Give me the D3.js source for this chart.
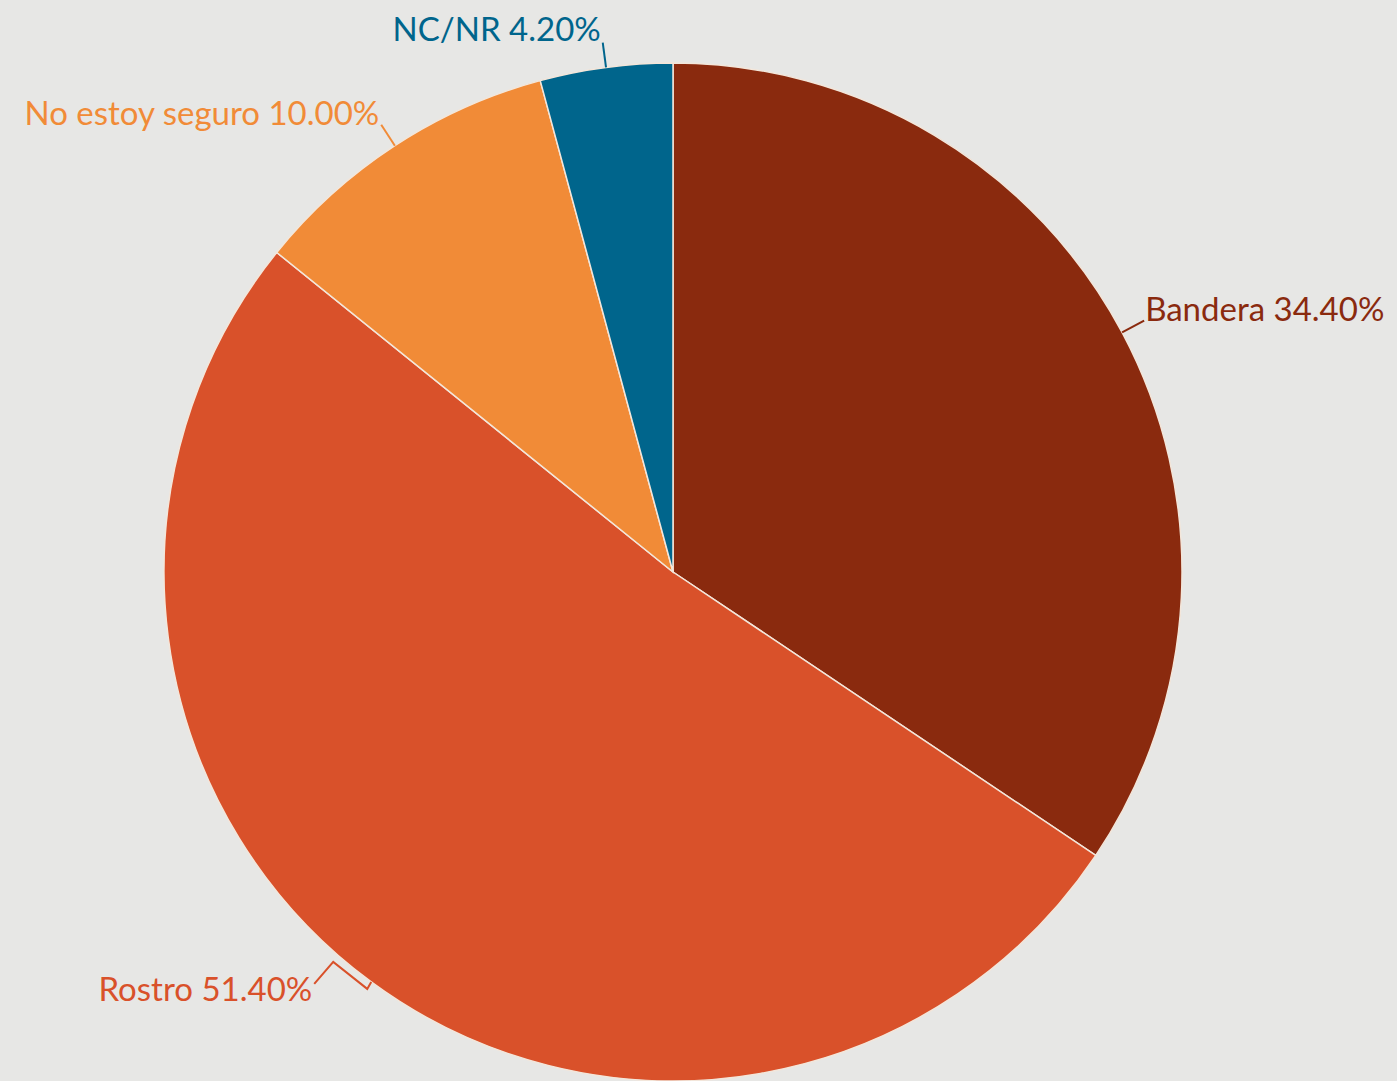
<!DOCTYPE html>
<html>
<head>
<meta charset="utf-8">
<script src="https://cdn.jsdelivr.net/npm/d3@7"></script>
<style>
  html, body { margin: 0; padding: 0; background: #e7e7e5; }
  svg { display: block; }
</style>
</head>
<body>
<div id="pie-chart"></div>
<script>
// answers, clockwise from 12 o'clock
const categories = ['Bandera', 'Rostro', 'No estoy seguro', 'NC/NR'];
const values = [34.4, 51.4, 10.0, 4.2];
const colors = ['#8a2a0e', '#d9512a', '#f18b37', '#00658c'];

generatePie('#pie-chart');

function generatePie(pieId) {
    const pageWidth = 1397;
    const pageHeight = 1081;
    const cx = 673;
    const cy = 572;
    const radius = 509;
    const lineLength = 25;

    const svg = d3.select(pieId)
        .append("svg")
        .attr("width", pageWidth)
        .attr("height", pageHeight);

    svg.append("rect")
        .attr("width", pageWidth)
        .attr("height", pageHeight)
        .attr("fill", "#e7e7e5");

    const data = categories.map((c, i) => ({ name: c, value: values[i], color: colors[i] }));

    const pie = d3.pie()
        .sort(null)
        .value(d => d.value);

    const arc = d3.arc()
        .innerRadius(0)
        .outerRadius(radius);

    const g = svg.append("g")
        .attr("transform", "translate(" + cx + "," + cy + ")");

    const arcs = pie(data);

    g.selectAll("path.slice")
        .data(arcs)
        .enter()
        .append("path")
        .attr("class", "slice")
        .attr("d", arc)
        .attr("fill", d => d.data.color)
        .attr("stroke", "#f3e6da")
        .attr("stroke-width", 1.5);

    // point on a circle of radius r at the slice's middle angle
    const polar = (a, r) => [r * Math.sin(a), -r * Math.cos(a)];

    arcs.forEach(d => {
        const mid = (d.startAngle + d.endAngle) / 2;
        const p0 = polar(mid, radius);
        let pts, end;
        if (d.data.name === 'Rostro') {
            // bent connector as drawn in the original
            pts = [p0, [p0[0] - 4, p0[1] + 7], [p0[0] - 38, p0[1] - 20], [p0[0] - 57, p0[1] + 2]];
        } else {
            pts = [p0, polar(mid, radius + lineLength)];
        }
        end = pts[pts.length - 1];
        const right = Math.sin(mid) > 0;

        g.append("path")
            .attr("d", d3.line()(pts))
            .attr("fill", "none")
            .attr("stroke", d.data.color)
            .attr("stroke-width", 2);

        let ty = end[1];
        if (d.data.name === 'Rostro') ty += 17;
        if (d.data.name === 'NC/NR') ty -= 2;

        g.append("text")
            .attr("x", end[0] + (right ? 1 : -2))
            .attr("y", ty)
            .attr("text-anchor", right ? "start" : "end")
            .attr("fill", d.data.color)
            .style("font-family", "Lato, 'Noto Sans', sans-serif")
            .style("font-size", "33px")
            .text(d.data.name + " " + d.data.value.toFixed(2) + "%");
    });
}
</script>
</body>
</html>
